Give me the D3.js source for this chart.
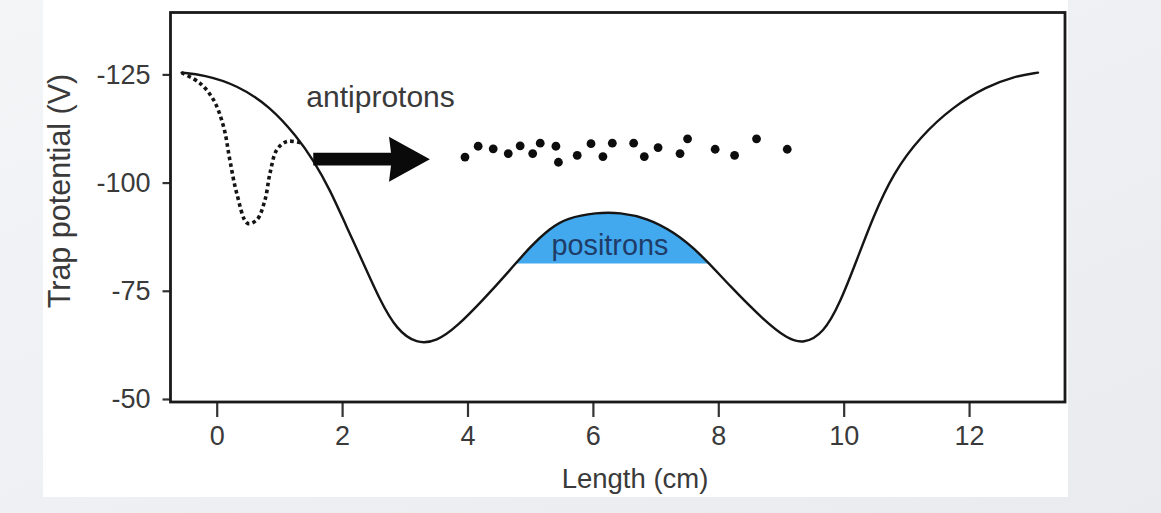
<!DOCTYPE html>
<html>
<head>
<meta charset="utf-8">
<script src="https://cdn.jsdelivr.net/npm/d3@7"></script>
<style>
  html, body { margin: 0; padding: 0; }
  body { width: 1161px; height: 513px; overflow: hidden; background: #eceef1; }
  svg { display: block; }
</style>
</head>
<body>
<svg id="chart" width="1161" height="513"></svg>
<script>
// ---- data ----
const xTicks = [0, 2, 4, 6, 8, 10, 12];
const yTicks = [-125, -100, -75, -50];

// solid trap potential (Length cm, Potential V)
const potentialX = [-0.56, -0.21, 0.32, 0.85, 1.28, 1.54, 1.81, 2.07, 2.34, 2.60, 2.87, 3.19, 3.51, 3.83, 4.25, 4.68, 5.00, 5.32, 5.58, 6.06, 6.43, 6.86, 7.28, 7.71, 8.19, 8.72, 9.09, 9.36, 9.68, 9.94, 10.21, 10.47, 10.79, 11.22, 11.75, 12.28, 12.71, 13.10];
const potentialV = [-125.4, -124.9, -122.6, -117.6, -110.6, -105.2, -98.3, -89.8, -81.4, -72.9, -66.0, -62.7, -63.3, -66.7, -72.9, -79.8, -85.2, -89.5, -91.8, -93.1, -93.1, -91.8, -88.7, -83.7, -76.0, -68.3, -64.0, -62.7, -65.2, -72.1, -82.1, -92.1, -102.2, -110.6, -117.6, -122.2, -124.5, -125.4];

// dashed loading well
const dashedX = [-0.56, -0.27, -0.05, 0.11, 0.21, 0.32, 0.49, 0.64, 0.77, 0.85, 0.96, 1.12, 1.36];
const dashedV = [-125.4, -123.0, -119.1, -112.9, -105.2, -97.5, -90.6, -91.4, -96.0, -102.2, -107.6, -109.5, -109.1];

// antiproton dots
const antiprotonX = [3.96, 4.17, 4.41, 4.65, 4.84, 5.04, 5.16, 5.41, 5.45, 5.75, 5.97, 6.16, 6.31, 6.65, 6.82, 7.04, 7.39, 7.51, 7.95, 8.26, 8.61, 9.10];
const antiprotonV = [-105.9, -108.4, -107.8, -106.7, -108.5, -106.7, -109.1, -108.4, -104.7, -106.3, -109.0, -106.0, -109.1, -109.1, -106.0, -108.1, -106.7, -110.1, -107.7, -106.3, -110.1, -107.7];

// positron cloud fill level and its x span (between the two wells)
const positronLevel = -81.3;
const positronSpan = [4.0, 9.0];

// arrow (x start, head base, tip; potential)
const arrowX = [1.54, 2.78, 3.40];
const arrowV = -105.4;

// annotation labels
const labelTexts = ["antiprotons", "positrons"];
const labelX = [1.43, 5.34];
const labelV = [-117.5, -83.3];

// ---- drawing ----
(function () {
const svg = d3.select("#chart");

const defs = svg.append("defs");
const bg = defs.append("linearGradient").attr("id", "bg").attr("x1", 0).attr("y1", 0).attr("x2", 1).attr("y2", 1);
bg.append("stop").attr("offset", "0%").attr("stop-color", "#f4f5f7");
bg.append("stop").attr("offset", "100%").attr("stop-color", "#e9ebee");
svg.append("rect").attr("width", 1161).attr("height", 513).attr("fill", "url(#bg)");

// white panel
svg.append("rect").attr("x", 43).attr("y", 0).attr("width", 1025).attr("height", 497).attr("fill", "#ffffff");

const pL = 170.5, pR = 1065, pT = 12.5, pB = 402;
const x = d3.scaleLinear().domain([-0.737, 13.53]).range([pL, pR]);
const y = d3.scaleLinear().domain([-49.3, -139.3]).range([pB, pT]);

const potential = potentialX.map((d, i) => [d, potentialV[i]]);
const dashed = dashedX.map((d, i) => [d, dashedV[i]]);

const smooth = d3.curveBasis;
const line = d3.line().x(d => x(d[0])).y(d => y(d[1])).curve(smooth);
const dashLine = d3.line().x(d => x(d[0])).y(d => y(d[1])).curve(d3.curveCatmullRom.alpha(0.5));

// positron fill: area below curve clipped above the level
defs.append("clipPath").attr("id", "posclip")
  .append("rect")
  .attr("x", x(positronSpan[0])).attr("width", x(positronSpan[1]) - x(positronSpan[0]))
  .attr("y", pT).attr("height", y(positronLevel) - pT);

const area = d3.area().x(d => x(d[0])).y0(pB).y1(d => y(d[1])).curve(smooth);
svg.append("path").datum(potential)
  .attr("d", area)
  .attr("fill", "#42a9ee")
  .attr("clip-path", "url(#posclip)");

// solid potential
svg.append("path").datum(potential)
  .attr("d", line)
  .attr("fill", "none").attr("stroke", "#151515").attr("stroke-width", 2.4)
  .attr("stroke-linecap", "round");

// dashed well
svg.append("path").datum(dashed)
  .attr("d", dashLine)
  .attr("fill", "none").attr("stroke", "#151515").attr("stroke-width", 3.6)
  .attr("stroke-dasharray", "3.6 3.2");

// antiproton dots
svg.append("g").selectAll("circle")
  .data(antiprotonX.map((d, i) => [d, antiprotonV[i]]))
  .join("circle")
  .attr("cx", d => x(d[0])).attr("cy", d => y(d[1])).attr("r", 4.4)
  .attr("fill", "#0d0d0d");

// arrow
const ay = y(arrowV);
const shaftHalf = 6.4, headHalf = 22.5;
const arrowPts = [
  [x(arrowX[0]), ay - shaftHalf],
  [x(arrowX[1]), ay - shaftHalf],
  [x(arrowX[1]) - 2, ay - headHalf],
  [x(arrowX[2]), ay],
  [x(arrowX[1]) - 2, ay + headHalf],
  [x(arrowX[1]), ay + shaftHalf],
  [x(arrowX[0]), ay + shaftHalf]
];
svg.append("path").attr("d", d3.line()(arrowPts) + "Z").attr("fill", "#0a0a0a");

const fontFam = "Liberation Sans, Arial, sans-serif";

// labels
svg.append("text")
  .attr("x", x(labelX[0])).attr("y", y(labelV[0]))
  .attr("font-family", fontFam)
  .attr("font-size", 30).attr("fill", "#3a3a3a")
  .text(labelTexts[0]);
svg.append("text")
  .attr("x", x(labelX[1])).attr("y", y(labelV[1]))
  .attr("font-family", fontFam)
  .attr("font-size", 28.8).attr("fill", "#1f3c68")
  .text(labelTexts[1]);

// axes
const xAxis = svg.append("g").attr("transform", `translate(0,${pB})`)
  .call(d3.axisBottom(x).tickValues(xTicks).tickSize(15).tickPadding(9).tickFormat(d3.format("d")));
const yAxis = svg.append("g").attr("transform", `translate(${pL},0)`)
  .call(d3.axisLeft(y).tickValues(yTicks).tickSize(8).tickPadding(12).tickFormat(d3.format("d")));
[xAxis, yAxis].forEach(g => {
  g.select(".domain").remove();
  g.selectAll(".tick line").attr("stroke", "#333").attr("stroke-width", 2.2);
  g.selectAll(".tick text").attr("font-family", fontFam).attr("font-size", 27).attr("fill", "#3a3a3a");
});
yAxis.selectAll(".tick text").text(d => "-" + Math.abs(d));

// frame
svg.append("rect")
  .attr("x", pL).attr("y", pT).attr("width", pR - pL).attr("height", pB - pT)
  .attr("fill", "none").attr("stroke", "#1a1a1a").attr("stroke-width", 2.8);

// axis titles
svg.append("text")
  .attr("x", 635).attr("y", 488)
  .attr("text-anchor", "middle")
  .attr("font-family", fontFam).attr("font-size", 27.5).attr("fill", "#3a3a3a")
  .text("Length (cm)");
svg.append("text")
  .attr("transform", `translate(70,191) rotate(-90)`)
  .attr("text-anchor", "middle")
  .attr("font-family", fontFam).attr("font-size", 30.5).attr("fill", "#3a3a3a")
  .text("Trap potential (V)");
})();
</script>
</body>
</html>
